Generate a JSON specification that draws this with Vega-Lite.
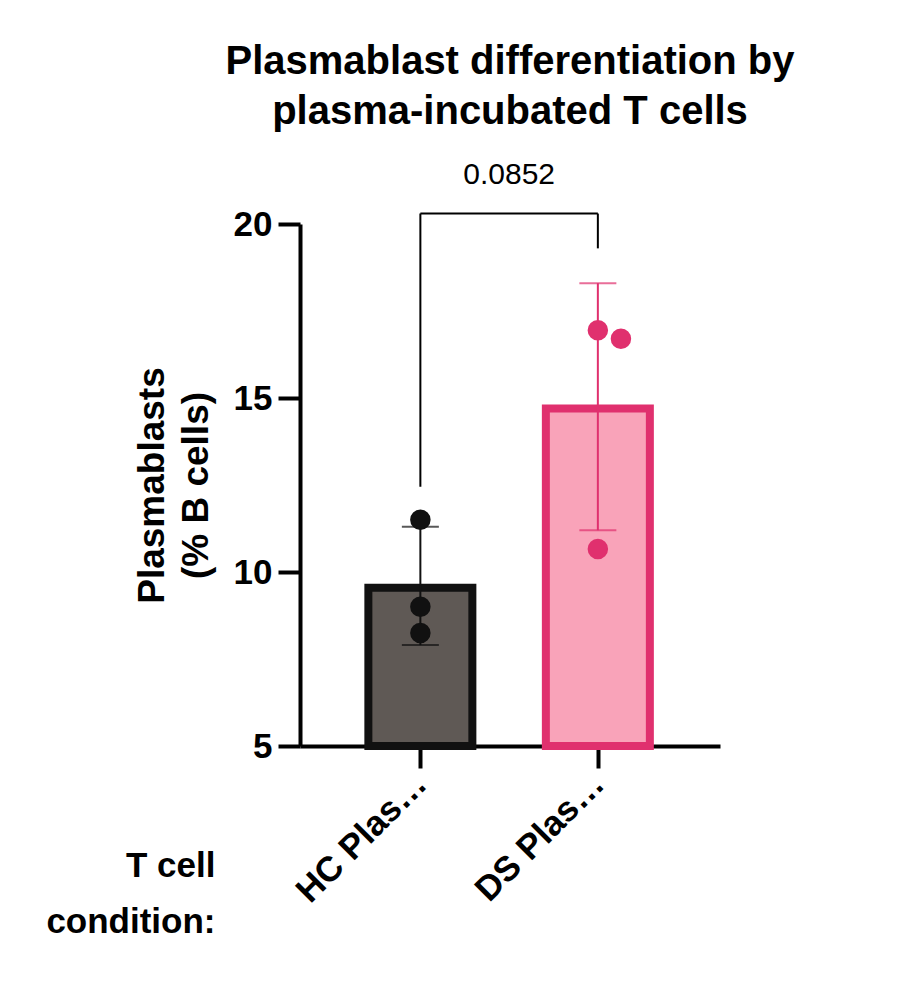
{
  "$schema": "https://vega.github.io/schema/vega-lite/v6.json",
  "width": 420,
  "height": 522,
  "autosize": {"type": "none"},
  "padding": {"left": 300, "top": 224, "right": 200, "bottom": 258},
  "background": "white",
  "config": {"font": "Liberation Sans", "view": {"stroke": null}},
  "title": {
    "text": ["Plasmablast differentiation by", "plasma-incubated T cells"],
    "fontSize": 40, "fontWeight": "bold", "color": "black",
    "lineHeight": 50, "offset": 28, "anchor": "middle"
  },
  "datasets": {
    "bars": [
      {"group": "HC Plasma", "pos": 1, "mean": 9.55, "lo": 7.9, "hi": 11.3},
      {"group": "DS Plasma", "pos": 2, "mean": 14.7, "lo": 11.2, "hi": 18.3}
    ],
    "points": [
      {"group": "HC Plasma", "pos": 1, "value": 11.5},
      {"group": "HC Plasma", "pos": 1, "value": 9.0},
      {"group": "HC Plasma", "pos": 1, "value": 8.25},
      {"group": "DS Plasma", "pos": 2, "value": 16.95},
      {"group": "DS Plasma", "pos": 2.13, "value": 16.7},
      {"group": "DS Plasma", "pos": 2, "value": 10.66}
    ],
    "bracket": [
      {"x": 1, "x2": 1, "y": 12.45, "y2": 20.3},
      {"x": 1, "x2": 2, "y": 20.3, "y2": 20.3},
      {"x": 2, "x2": 2, "y": 19.3, "y2": 20.3}
    ]
  },
  "layer": [
    {
      "data": {"name": "bars"},
      "mark": {"type": "bar", "size": 104, "strokeWidth": 8, "clip": false},
      "encoding": {
        "x": {"field": "pos", "type": "quantitative",
          "scale": {"domain": [0.35, 2.66], "nice": false, "zero": false},
          "axis": {"values": [1, 2], "grid": false, "domain": true, "domainWidth": 4, "domainColor": "black",
            "tickColor": "black", "tickWidth": 4, "tickSize": 22,
            "labelExpr": "datum.value == 1 ? 'HC Plasma' : 'DS Plasma'",
            "labelAngle": -45, "labelAlign": "right", "labelBaseline": "middle", "labelPadding": 10,
            "labelFontSize": 35, "labelFontWeight": "bold", "labelColor": "black",
            "title": ["T cell", "condition:"], "titleFontSize": 35, "titleFontWeight": "bold",
            "titleColor": "black", "titleAlign": "right", "titleX": -85, "titleY": 102, "titleLineHeight": 56}},
        "y": {"field": "mean", "type": "quantitative",
          "scale": {"domain": [5, 20], "nice": false, "zero": false},
          "axis": {"values": [5, 10, 15, 20], "grid": false, "domainWidth": 4, "domainColor": "black",
            "tickColor": "black", "tickWidth": 4, "tickSize": 22, "labelPadding": 6,
            "labelFontSize": 35, "labelFontWeight": "bold", "labelColor": "black",
            "title": ["Plasmablasts", "(% B cells)"], "titleFontSize": 37, "titleFontWeight": "bold",
            "titleColor": "black", "titlePadding": 18, "titleLineHeight": 44}},
        "y2": {"datum": 5},
        "fill": {"field": "group", "type": "nominal",
          "scale": {"domain": ["HC Plasma", "DS Plasma"], "range": ["#5f5955", "#f9a3b9"]}, "legend": null},
        "stroke": {"field": "group", "type": "nominal",
          "scale": {"domain": ["HC Plasma", "DS Plasma"], "range": ["#111111", "#e0306e"]}, "legend": null}
      }
    },
    {
      "data": {"name": "bars"},
      "mark": {"type": "rule", "strokeWidth": 2},
      "encoding": {
        "x": {"field": "pos", "type": "quantitative"},
        "y": {"field": "lo", "type": "quantitative"},
        "y2": {"field": "hi"},
        "color": {"field": "group", "type": "nominal",
          "scale": {"domain": ["HC Plasma", "DS Plasma"], "range": ["#111111", "#e0306e"]}, "legend": null}
      }
    },
    {
      "data": {"name": "bars"},
      "transform": [{"fold": ["lo", "hi"], "as": ["k", "v"]}],
      "mark": {"type": "tick", "orient": "horizontal", "size": 37, "thickness": 2},
      "encoding": {
        "x": {"field": "pos", "type": "quantitative"},
        "y": {"field": "v", "type": "quantitative"},
        "color": {"field": "group", "type": "nominal",
          "scale": {"domain": ["HC Plasma", "DS Plasma"], "range": ["#111111", "#e0306e"]}, "legend": null}
      }
    },
    {
      "data": {"name": "points"},
      "mark": {"type": "circle", "size": 420, "opacity": 1},
      "encoding": {
        "x": {"field": "pos", "type": "quantitative"},
        "y": {"field": "value", "type": "quantitative"},
        "color": {"field": "group", "type": "nominal",
          "scale": {"domain": ["HC Plasma", "DS Plasma"], "range": ["#111111", "#e0306e"]}, "legend": null}
      }
    },
    {
      "data": {"name": "bracket"},
      "mark": {"type": "rule", "strokeWidth": 2, "color": "black", "clip": false},
      "encoding": {
        "x": {"field": "x", "type": "quantitative"},
        "x2": {"field": "x2"},
        "y": {"field": "y", "type": "quantitative"},
        "y2": {"field": "y2"}
      }
    },
    {
      "data": {"values": [{"x": 1.5, "y": 21.4, "label": "0.0852"}]},
      "mark": {"type": "text", "fontSize": 30, "color": "black", "clip": false, "baseline": "middle"},
      "encoding": {
        "x": {"field": "x", "type": "quantitative"},
        "y": {"field": "y", "type": "quantitative"},
        "text": {"field": "label"}
      }
    }
  ]
}
